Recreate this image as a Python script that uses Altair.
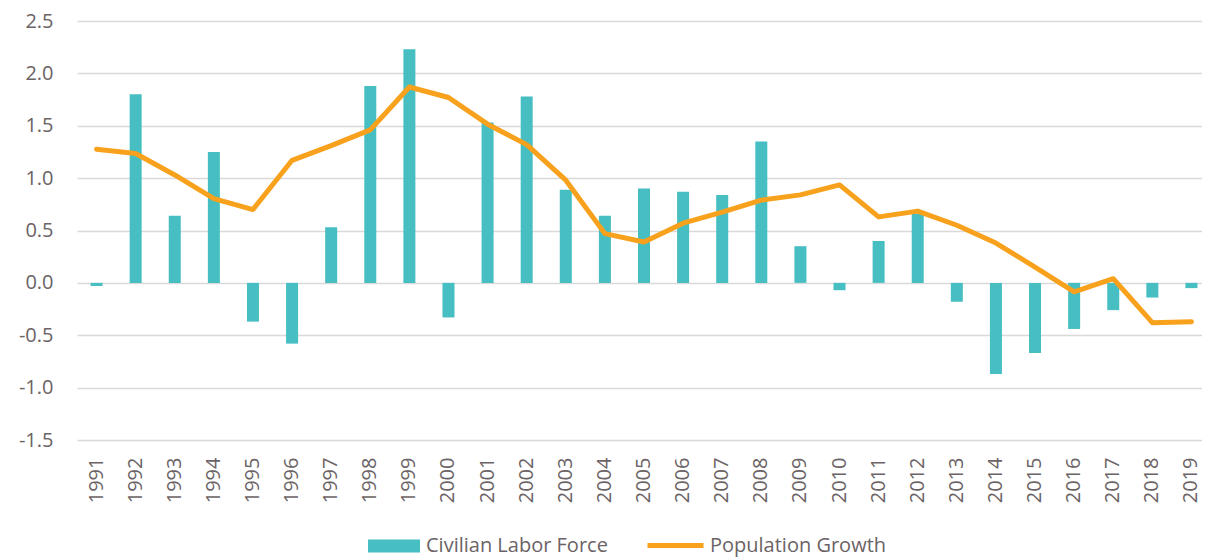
import altair as alt
import pandas as pd

years = ["1991", "1992", "1993", "1994", "1995", "1996", "1997", "1998", "1999", "2000",
         "2001", "2002", "2003", "2004", "2005", "2006", "2007", "2008", "2009", "2010",
         "2011", "2012", "2013", "2014", "2015", "2016", "2017", "2018", "2019"]

civilian_labor_force = [-0.03, 1.80, 0.64, 1.25, -0.37, -0.58, 0.53, 1.88, 2.23, -0.33,
                        1.53, 1.78, 0.89, 0.64, 0.90, 0.87, 0.84, 1.35, 0.35, -0.07,
                        0.40, 0.66, -0.18, -0.87, -0.67, -0.44, -0.26, -0.14, -0.05]

population_growth = [1.275, 1.235, 1.03, 0.805, 0.70, 1.17, 1.31, 1.46, 1.87, 1.77,
                     1.515, 1.32, 0.98, 0.47, 0.39, 0.57, 0.675, 0.79, 0.84, 0.935,
                     0.63, 0.685, 0.55, 0.38, 0.15, -0.085, 0.04, -0.38, -0.37]

y_ticks = [-1.5, -1.0, -0.5, 0.0, 0.5, 1.0, 1.5, 2.0, 2.5]

TEAL = "#46BEC2"
ORANGE = "#F7A11C"
TEXT = "#6b6365"
GRID = "#d9d9d9"
FONT = "Open Sans"

bar_df = pd.DataFrame({"year": years, "value": civilian_labor_force,
                       "series": "Civilian Labor Force"})
line_df = pd.DataFrame({"year": years, "value": population_growth,
                        "series": "Population Growth"})

x_enc = alt.X(
    "year:O",
    title=None,
    sort=years,
    scale=alt.Scale(range=[0, 1134], paddingInner=0, paddingOuter=0),
    axis=alt.Axis(labelAngle=-90, labelPadding=17, domain=False, ticks=False,
                  labelFont=FONT, labelFontSize=20, labelColor=TEXT, grid=False),
)
y_enc = alt.Y(
    "value:Q",
    title=None,
    scale=alt.Scale(domain=[-1.5, 2.5], nice=False, zero=False),
    axis=alt.Axis(values=y_ticks, domain=False, ticks=False, labelPadding=24,
                  labelFont=FONT, labelFontSize=20, labelColor=TEXT,
                  gridColor=GRID, gridWidth=1.5,
                  labelExpr="(datum.value < 0 ? '-' : '') + format(abs(datum.value), '.1f')"),
)

bars = alt.Chart(bar_df).mark_bar(size=12).encode(
    x=x_enc,
    y=y_enc,
    color=alt.Color(
        "series:N",
        scale=alt.Scale(domain=["Civilian Labor Force"], range=[TEAL]),
        legend=alt.Legend(
            title=None, orient="none", legendX=290, legendY=498, padding=0,
            symbolType="M-1,-0.25H1V0.25H-1Z", symbolSize=2704, labelOffset=5,
            labelFont=FONT, labelFontSize=20, labelColor=TEXT, labelLimit=400,
        ),
    ),
)

line = alt.Chart(line_df).mark_line(strokeWidth=5, strokeCap="round", strokeJoin="round").encode(
    x=x_enc,
    y=y_enc,
    color=alt.Color(
        "series:N",
        scale=alt.Scale(domain=["Population Growth"], range=[ORANGE]),
        legend=alt.Legend(
            title=None, orient="none", legendX=568, legendY=494, padding=0,
            symbolType="stroke", symbolSize=3136, symbolStrokeWidth=5, labelOffset=4,
            labelFont=FONT, labelFontSize=20, labelColor=TEXT, labelLimit=400,
        ),
    ),
)

chart = (
    alt.layer(bars, line)
    .resolve_scale(color="independent")
    .properties(
        width=1125,
        height=419,
        autosize=alt.AutoSizeParams(type="none"),
        padding={"left": 69, "top": 13, "right": 0, "bottom": 120},
        background="white",
    )
    .configure_view(stroke=None)
)

chart.save("out.html", embed_options={"renderer": "svg", "actions": False})
